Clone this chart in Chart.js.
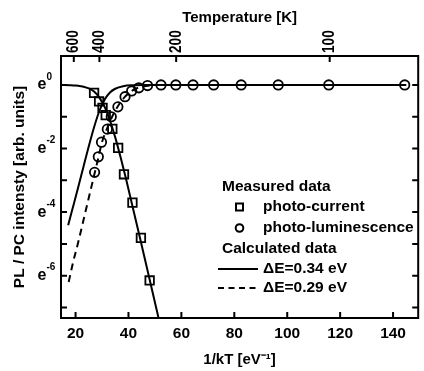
<!DOCTYPE html>
<html>
<head>
<meta charset="utf-8">
<script src="https://cdn.jsdelivr.net/npm/chart.js@4.4.1/dist/chart.umd.min.js"></script>
<style>
html, body { margin: 0; padding: 0; background: #fff; overflow: hidden; }
#wrap { width: 424px; height: 371px; overflow: hidden; }
</style>
</head>
<body>
<div id="wrap"><canvas id="plot" width="426" height="371"></canvas></div>
<script>
// measured photo-current (squares)
const pcX = [27.0, 28.9, 30.2, 31.4, 33.9, 36.1, 38.3, 41.5, 44.7, 48.0];
const pcY = [-0.25, -0.52, -0.72, -0.95, -1.38, -1.98, -2.81, -3.70, -4.81, -6.15];

// measured photo-luminescence (circles)
const plX = [27.2, 28.6, 29.8, 32.0, 33.5, 36.0, 38.7, 41.2, 43.9, 47.2, 52.3, 57.9, 64.4, 72.2, 82.6, 96.6, 115.7, 144.4];
const plY = [-2.75, -2.26, -1.80, -1.39, -1.00, -0.69, -0.37, -0.19, -0.09, -0.02, 0, 0, 0, 0, 0, 0, 0, 0];

// calculated curves
const pcFitX = [14.5, 18, 20, 22, 23, 25, 27, 29, 31, 33, 35, 37, 39, 40, 44, 48, 52];
const pcFitY = [0, -0.01, -0.02, -0.04, -0.055, -0.11, -0.21, -0.40, -0.69, -1.12, -1.65, -2.27, -2.93, -3.28, -4.69, -6.12, -7.56];
const plFitX = [17.2, 19, 21, 23, 25, 27, 29, 31, 33, 35, 38, 42, 46, 55, 145];
const plFitY = [-4.41, -3.85, -3.22, -2.57, -1.93, -1.33, -0.82, -0.46, -0.24, -0.12, -0.04, -0.01, 0, 0, 0];
const dashX = [17.4, 19, 21, 23, 25, 27, 28.6, 30, 32, 34, 36, 38.7, 41.2, 44, 48];
const dashY = [-6.2, -5.6, -4.95, -4.25, -3.55, -2.85, -2.3, -1.8, -1.35, -0.97, -0.67, -0.37, -0.19, -0.08, -0.02];

// axes
const xTicks = [20, 40, 60, 80, 100, 120, 140];
const tempTicks = [600, 400, 200, 100];
const yLabelTicks = [0, -2, -4, -6];
const yMarkTicks = [0, -1, -2, -3, -4, -5, -6, -7];
const xMin = 14.5, xMax = 149.5;
const yMin = -7.33, yMax = 0.91;
const kB = 8.617e-5; // eV/K

const FONT = '"Liberation Sans", Arial, sans-serif';
const pts = (xs, ys) => xs.map((x, i) => ({ x: x, y: ys[i] }));

const decor = {
    id: 'decor',
    afterDatasetsDraw(chart) {
        const { ctx, chartArea: a, scales } = chart;
        const ds = chart.data.datasets;
        ctx.save();
        ctx.strokeStyle = '#000';
        ctx.fillStyle = '#000';
        ctx.lineWidth = 2;
        ctx.strokeRect(a.left, a.top, a.right - a.left, a.bottom - a.top);

        // inward tick marks
        ctx.beginPath();
        xTicks.forEach(v => {
            const px = scales.x.getPixelForValue(v);
            ctx.moveTo(px, a.bottom); ctx.lineTo(px, a.bottom - 6);
        });
        scales.x2.ticks.forEach(t => {
            const px = scales.x2.getPixelForValue(t.value);
            ctx.moveTo(px, a.top); ctx.lineTo(px, a.top + 6);
        });
        yMarkTicks.forEach(v => {
            const py = scales.y.getPixelForValue(v);
            ctx.moveTo(a.left, py); ctx.lineTo(a.left + 6, py);
            ctx.moveTo(a.right, py); ctx.lineTo(a.right - 6, py);
        });
        ctx.stroke();

        // temperature labels, rotated and a bit narrow
        ctx.font = 'bold 17px ' + FONT;
        ctx.textAlign = 'left';
        ctx.textBaseline = 'middle';
        scales.x2.ticks.forEach((t, i) => {
            const px = scales.x2.getPixelForValue(t.value);
            ctx.save();
            ctx.translate(px, a.top - 3);
            ctx.rotate(-Math.PI / 2);
            ctx.scale(0.8, 1);
            ctx.fillText(String(tempTicks[i]), 0, 0);
            ctx.restore();
        });

        // e^n labels
        yLabelTicks.forEach(v => {
            const py = scales.y.getPixelForValue(v);
            ctx.font = 'bold 16px ' + FONT;
            ctx.fillText('e', 37.5, py);
            const w = ctx.measureText('e').width;
            ctx.font = 'bold 10px ' + FONT;
            ctx.fillText(String(v), 37.5 + w, py - 8);
        });

        // legend block
        ctx.font = 'bold 15.5px ' + FONT;
        ctx.fillText('Measured data', 222, 187);
        ctx.fillText(ds[0].label, 263, 207);
        ctx.fillText(ds[1].label, 263, 228);
        ctx.fillText('Calculated data', 222, 249);
        ctx.fillText(ds[2].label, 263, 269);
        ctx.fillText(ds[4].label, 263, 288);
        ctx.lineWidth = 2;
        ctx.strokeRect(236, 203.5, 7, 7);
        ctx.beginPath(); ctx.arc(239.5, 228, 3.8, 0, 2 * Math.PI); ctx.stroke();
        ctx.beginPath(); ctx.moveTo(218, 269); ctx.lineTo(258, 269); ctx.stroke();
        ctx.setLineDash([6, 4.5]);
        ctx.beginPath(); ctx.moveTo(218, 288); ctx.lineTo(258, 288); ctx.stroke();
        ctx.restore();
    }
};

const boldFont = size => ({ family: FONT, size: size, weight: 'bold' });

new Chart(document.getElementById('plot'), {
    type: 'scatter',
    data: {
        datasets: [
            { label: 'photo-current', data: pts(pcX, pcY), pointStyle: 'rect', pointRadius: 6,
              borderColor: '#000', backgroundColor: 'rgba(0,0,0,0)', borderWidth: 1.8 },
            { label: 'photo-luminescence', data: pts(plX, plY), pointStyle: 'circle', pointRadius: 4.7,
              borderColor: '#000', backgroundColor: 'rgba(0,0,0,0)', borderWidth: 1.8 },
            { label: '\u0394E=0.34 eV', data: pts(pcFitX, pcFitY), showLine: true, pointRadius: 0,
              borderColor: '#000', borderWidth: 2, cubicInterpolationMode: 'monotone' },
            { label: '\u0394E=0.34 eV', data: pts(plFitX, plFitY), showLine: true, pointRadius: 0,
              borderColor: '#000', borderWidth: 2, cubicInterpolationMode: 'monotone' },
            { label: '\u0394E=0.29 eV', data: pts(dashX, dashY), showLine: true, pointRadius: 0,
              borderColor: '#000', borderWidth: 2, borderDash: [7, 5], cubicInterpolationMode: 'monotone' }
        ]
    },
    options: {
        responsive: false,
        animation: false,
        events: [],
        layout: { padding: 0 },
        plugins: { legend: { display: false }, tooltip: { enabled: false } },
        scales: {
            x: {
                type: 'linear', position: 'bottom', min: xMin, max: xMax,
                afterBuildTicks: s => { s.ticks = xTicks.map(v => ({ value: v })); },
                afterFit: s => { s.height = 53; },
                grid: { display: false, drawTicks: false },
                border: { display: false },
                ticks: { color: '#000', font: boldFont(15.5), padding: 6, maxRotation: 0, autoSkip: false },
                title: { display: true, text: '1/kT [eV\u207B\u00B9]', color: '#000', font: boldFont(15),
                         padding: { top: 0, bottom: 2 } }
            },
            x2: {
                type: 'linear', position: 'top', min: xMin, max: xMax,
                afterBuildTicks: s => { s.ticks = tempTicks.map(T => ({ value: 1 / (kB * T) })); },
                afterFit: s => { s.height = 56; },
                grid: { display: false, drawTicks: false },
                border: { display: false },
                ticks: { display: false },
                title: { display: true, text: 'Temperature [K]', color: '#000', font: boldFont(15),
                         padding: { top: 9, bottom: 0 } }
            },
            y: {
                type: 'linear', position: 'left', min: yMin, max: yMax,
                afterFit: s => { s.width = 61; },
                grid: { display: false, drawTicks: false },
                border: { display: false },
                ticks: { display: false },
                title: { display: true, text: 'PL / PC intensty [arb. units]', color: '#000', font: boldFont(15.5),
                         padding: { top: 10, bottom: 0 } }
            }
        }
    },
    plugins: [decor]
});
</script>
</body>
</html>
